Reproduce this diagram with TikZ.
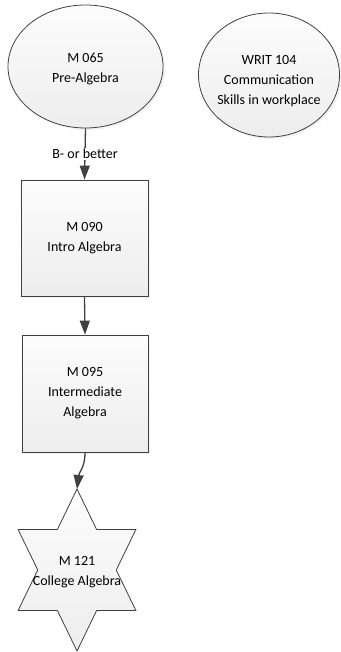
\documentclass[tikz,border=0pt]{standalone}
\usepackage{fontspec}
\setmainfont{Carlito}
\usetikzlibrary{arrows.meta,shapes.geometric,shadows}
\definecolor{edgec}{HTML}{404040}
\begin{document}
\begin{tikzpicture}[x=1pt,y=-1pt,
  lbl/.style={font=\fontsize{14}{20}\selectfont, align=center, text=black},
  grad/.style={top color=white!99!black, bottom color=white!93!black},
  shp/.style={draw=edgec, line width=0.8pt, grad,
    drop shadow={shadow xshift=2pt, shadow yshift=-2pt, fill=black!10, opacity=0.5}},
  oval/.style={shp, ellipse, inner sep=0pt},
  boxc/.style={shp, rectangle, inner sep=0pt},
  arr/.style={draw=edgec, line width=1.3pt, -{Triangle[length=14pt,width=10pt]}}]
\useasboundingbox (0,0) rectangle (340,652);
% nodes
\node[oval, minimum width=155pt, minimum height=123pt] (m065) at (85.5,66.5) {};
\node[lbl] (m065t) at (85.5,68.5) {M 065\\Pre-Algebra};
\node[oval, minimum width=141pt, minimum height=124pt] (writ) at (269,75) {};
\node[lbl] (writt) at (269,81) {WRIT 104\\Communication\\Skills in workplace};
\node[boxc, minimum width=127pt, minimum height=116pt] (m090) at (84.5,238) {};
\node[lbl] (m090t) at (84.5,238) {M 090\\Intro Algebra};
\node[boxc, minimum width=126pt, minimum height=117pt] (m095) at (85,393.5) {};
\node[lbl] (m095t) at (85,393.5) {M 095\\Intermediate\\Algebra};
% star
\draw[draw=edgec, line width=0.8pt, grad]
  (77,489)
  \foreach \k in {1,...,11}{
    -- ({77+(mod(\k,2)==1 ? 0.57735 : 1)*68*cos(90+30*\k)},{570-(mod(\k,2)==1 ? 0.57735 : 1)*81*sin(90+30*\k)})
  } -- cycle;
\coordinate (startop) at (77,489);
\node[lbl] (m121) at (77,572) {M 121\\College Algebra};
% connectors
\draw[arr] (m065.south) -- node[lbl, fill=white, inner sep=1pt, pos=0.5] (cond) {B- or better} (m090.north);
\draw[arr] (m090.south) -- (m095.north);
\draw[arr] (m095.south) .. controls (85,468) and (79,472) .. (startop);
\end{tikzpicture}
\end{document}
